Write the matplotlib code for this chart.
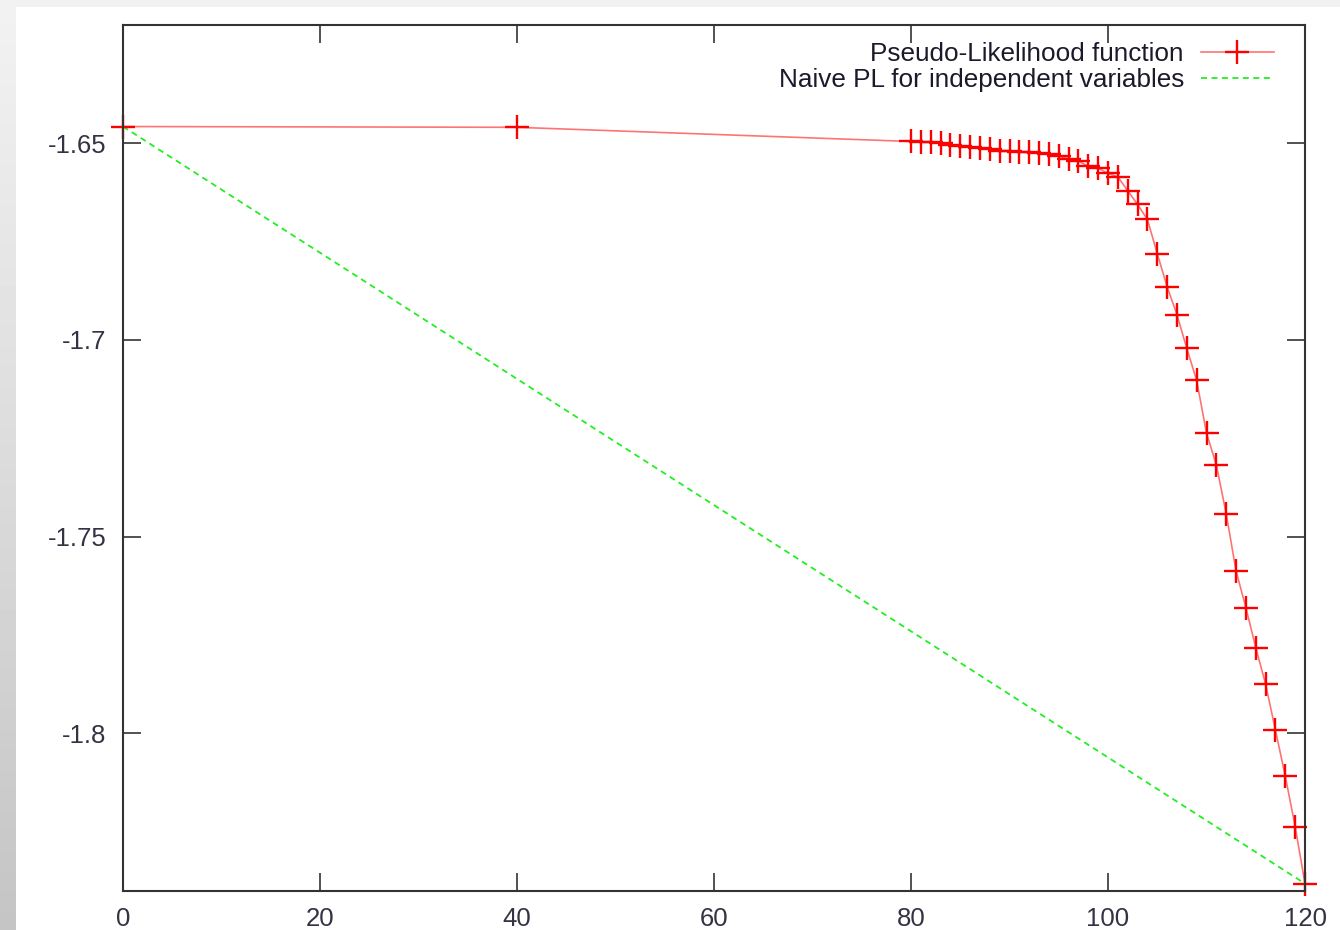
import numpy as np
import matplotlib; matplotlib.use("Agg")
import matplotlib.pyplot as plt
from matplotlib.legend_handler import HandlerTuple

plt.rcParams.update({"font.family": ["Liberation Sans", "DejaVu Sans"],
                     "axes.unicode_minus": False})

# ---- data ----
pl_x = [0, 40, 80, 81, 82, 83, 84, 85, 86, 87, 88, 89, 90, 91, 92, 93, 94, 95,
        96, 97, 98, 99, 100, 101, 102, 103, 104, 105, 106, 107, 108, 109, 110,
        111, 112, 113, 114, 115, 116, 117, 118, 119, 120]
pl_y = [-1.6458, -1.6460, -1.6496, -1.6497, -1.6498, -1.6501, -1.6505, -1.6507,
        -1.6510, -1.6512, -1.6516, -1.6519, -1.6520, -1.6522, -1.6524, -1.6526,
        -1.6529, -1.6533, -1.6540, -1.6546, -1.6559, -1.6564, -1.6577, -1.6586,
        -1.6621, -1.6656, -1.6694, -1.6781, -1.6865, -1.6936, -1.7022, -1.7103,
        -1.7237, -1.7318, -1.7442, -1.7587, -1.7681, -1.7782, -1.7875, -1.7992,
        -1.8109, -1.8237, -1.8382]
naive_x = [0, 120]
naive_y = [-1.6458, -1.8382]

xticks = [0, 20, 40, 60, 80, 100, 120]
yticks = [-1.65, -1.7, -1.75, -1.8]
ytick_labels = ["-1.65", "-1.7", "-1.75", "-1.8"]
labels = ["Pseudo-Likelihood function", "Naive PL for independent variables"]

W, H = 1340, 930
fig = plt.figure(figsize=(W / 100, H / 100), dpi=100, facecolor="white")

# slide background: grey strip on top, grey gradient band on the left
bg = fig.add_axes([0, 0, 1, 1], zorder=-10)
bg.add_patch(plt.Rectangle((0, 0), W, 7, color="#f2f2f2", lw=0))
grad = np.linspace(0.95, 0.77, 256).reshape(-1, 1)
bg.imshow(grad, cmap="gray", vmin=0, vmax=1, extent=(0, 16, H, 0), aspect="auto")
bg.set_xlim(0, W); bg.set_ylim(H, 0); bg.axis("off")

ax = fig.add_axes([123 / W, 1 - 890.7 / H, (1305 - 123) / W, (890.7 - 25) / H])

line, = ax.plot(pl_x, pl_y, color="#ff0000", lw=1.2, alpha=0.55)
# gnuplot does not clip point symbols at the border (but the frame sits on top)
marks, = ax.plot(pl_x, pl_y, ls="none", marker="+", ms=17, mew=1.7, color="#ff0000",
                 clip_on=False, zorder=2.3)
naive, = ax.plot(naive_x, naive_y, color="#22ee22", lw=1.3, dashes=(3.3, 2.5))

ax.set_xlim(0, 120)
ax.set_ylim(-1.84, -1.62)
ax.set_xticks(xticks)
ax.set_yticks(yticks)
ax.set_yticklabels(ytick_labels)
ax.tick_params(direction="in", length=13, width=1.2, color="#333333",
               top=True, right=True, labelsize=18.5, labelcolor="#333344")
ax.tick_params(axis="x", pad=12)
ax.tick_params(axis="y", pad=12)
for s in ax.spines.values():
    s.set_color("#333333"); s.set_linewidth(1.5)

leg = ax.legend([(line, marks), naive], labels, handler_map={tuple: HandlerTuple(ndivide=1)},
                loc="upper right", bbox_to_anchor=(1274 / W, 1 - 42 / H),
                bbox_transform=fig.transFigure, frameon=False, markerfirst=False,
                numpoints=1, fontsize=18.8, handlelength=2.8, handletextpad=0.65,
                labelspacing=0.07, borderpad=0, borderaxespad=0)
for t in leg.get_texts():
    t.set_color("#1a1a2a")

fig.savefig("out.png", dpi=100, facecolor="white")
